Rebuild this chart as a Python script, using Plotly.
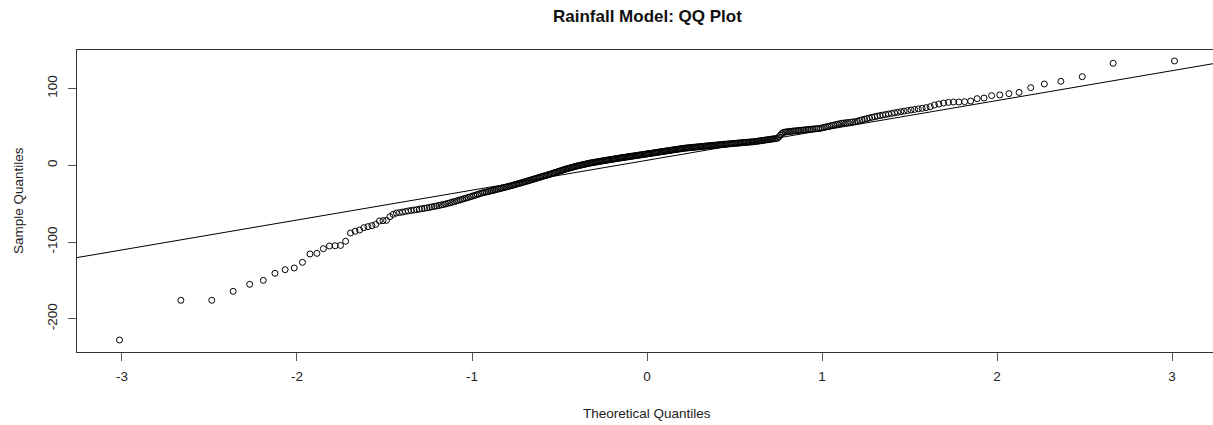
from statistics import NormalDist

import numpy as np
import plotly.graph_objects as go

# Sorted sample quantiles of the rainfall model residuals (n = 388)
lower_tail = [
    -227.8, -176.0, -176.0, -164.3, -155.2, -150.0, -140.8, -136.1, -133.9, -126.5,
    -115.6, -114.8, -108.7, -105.2, -104.9, -104.5, -99.0, -88.3, -86.0, -84.4,
    -81.3, -80.0, -78.7, -77.0, -72.6, -72.2, -71.8, -67.0, -64.0,
]
lower_body = [
    -62.3, -61.6, -61.0, -60.2, -59.5, -58.9, -58.3,
    -57.9, -57.2, -56.6, -56.0, -55.5, -54.9, -54.2, -53.6, -53.0, -52.4, -51.7, -51.1, -50.4, -49.6,
    -48.9, -48.1, -47.3, -46.6, -45.8, -45.0, -44.2, -43.4, -42.7, -41.9, -41.2, -40.4, -39.6, -38.9,
    -38.1, -37.3, -36.5,
    -35.9, -35.4, -34.8, -34.3, -33.8, -33.2, -32.7, -32.2, -31.6, -31.1, -30.5, -30.0, -29.5, -28.9,
    -28.4, -27.9, -27.3, -26.8, -26.3, -25.7,
    -25.1, -24.6, -24.0, -23.5, -22.9, -22.4, -21.8, -21.3, -20.7, -20.2, -19.6, -19.1, -18.5, -18.0,
    -17.4, -16.9, -16.3, -15.8, -15.2, -14.7, -14.2, -13.6, -13.1, -12.6,
]
middle_body = [
    -12.1, -11.6, -11.0, -10.5, -9.9, -9.4, -8.8, -8.3, -7.7, -7.2, -6.6, -6.1, -5.5, -5.0,
    -4.6, -4.1, -3.7, -3.2, -2.8, -2.4, -1.9, -1.5, -1.0, -0.6,
    -0.25, 0.1, 0.45, 0.8, 1.15, 1.5, 1.85, 2.2, 2.55, 2.9,
    3.2, 3.4, 3.7, 4.0, 4.2, 4.5, 4.8, 5.1, 5.3, 5.6,
    5.85, 6.1, 6.35, 6.6, 6.85, 7.1, 7.35, 7.6, 7.85, 8.1, 8.35, 8.6, 8.85, 9.1,
    9.3, 9.6, 9.8, 10.0, 10.2, 10.5, 10.7, 10.9, 11.1, 11.4, 11.6, 11.8, 12.0, 12.3, 12.5, 12.7, 12.9,
    13.2, 13.4, 13.6, 13.8, 14.1, 14.3, 14.5, 14.7, 15.0, 15.2, 15.4, 15.6,
    15.8, 16.1, 16.3, 16.5, 16.7, 17.0, 17.2, 17.4, 17.7, 17.9, 18.1, 18.3, 18.6, 18.8, 19.0, 19.2,
    19.5, 19.7, 19.9, 20.2, 20.4, 20.6, 20.8, 21.1, 21.3, 21.5, 21.7, 22.0, 22.2,
    22.4, 22.5, 22.7, 22.8, 23.0, 23.1, 23.3, 23.4, 23.6, 23.7, 23.9, 24.0, 24.2, 24.4, 24.5, 24.7,
    24.8, 25.0, 25.1, 25.3, 25.4, 25.6, 25.7, 25.9, 26.0, 26.2, 26.3, 26.5,
    26.6, 26.8, 26.9, 27.1, 27.2, 27.4, 27.5, 27.7, 27.8, 28.0, 28.1, 28.3, 28.4, 28.6, 28.7, 28.9,
    29.0, 29.2, 29.3, 29.5, 29.6, 29.8, 29.9, 30.1, 30.2, 30.4, 30.5, 30.7, 30.8,
]
upper_body = [
    31.1, 31.4, 31.6, 31.9, 32.2, 32.5, 32.7, 33.0, 33.3, 33.5, 33.8, 34.1, 34.4, 34.6, 34.9, 35.2,
    37.0, 39.5, 41.5, 42.8, 43.3, 43.6, 43.9,
    44.1, 44.3, 44.6, 44.8, 45.0, 45.2, 45.5, 45.7, 45.9, 46.1, 46.4, 46.6, 46.8, 47.0, 47.3, 47.5,
    47.7, 47.9, 48.2,
    48.8, 49.4, 50.0, 50.6, 51.2, 51.8, 52.4, 53.0, 53.6, 54.2, 54.8,
    55.1, 55.5, 55.8, 56.1, 56.5, 56.8,
    57.6, 58.4, 59.3, 60.1, 60.9, 61.7, 62.6, 63.4,
    64.1, 64.8, 65.5, 66.2, 66.9,
    67.6, 68.4, 69.1, 69.9,
    70.6, 71.3, 72.1, 72.8, 73.6, 74.3, 75.1,
]
upper_tail = [
    76.4, 78.6, 79.9, 81.2, 82.0, 82.5, 82.5, 82.9, 83.8, 86.9, 87.7, 90.8, 91.7, 93.4, 95.0,
    101.2, 106.0, 109.5, 115.5, 133.0, 136.0,
]

title_text = "Rainfall Model: QQ Plot"
x_label = "Theoretical Quantiles"
y_label = "Sample Quantiles"
x_ticks = [-3, -2, -1, 0, 1, 2, 3]
y_ticks = [-200, -100, 0, 100]

sample = np.sort(np.array(lower_tail + lower_body + middle_body + upper_body + upper_tail))
n = len(sample)

# Normal scores as in qqnorm: ppoints(n) with a = 0.5
norm = NormalDist()
theoretical = np.array([norm.inv_cdf((i - 0.5) / n) for i in range(1, n + 1)])

# Reference line through the first and third quartiles (qqline)
q_y = np.percentile(sample, [25, 75])
q_x = np.array([norm.inv_cdf(0.25), norm.inv_cdf(0.75)])
slope = (q_y[1] - q_y[0]) / (q_x[1] - q_x[0])
intercept = q_y[0] - slope * q_x[0]

x_range = [-3.257, 3.234]
y_range = [-243.4, 150.3]

font_family = "Liberation Sans, Arial, sans-serif"

fig = go.Figure()
fig.add_trace(go.Scatter(
    x=x_range,
    y=[intercept + slope * x_range[0], intercept + slope * x_range[1]],
    mode="lines",
    line=dict(color="black", width=1),
    hoverinfo="skip",
    showlegend=False,
))
fig.add_trace(go.Scatter(
    x=theoretical,
    y=sample,
    mode="markers",
    marker=dict(symbol="circle-open", size=6, color="black", line=dict(width=1, color="black")),
    showlegend=False,
))

axis_common = dict(
    showgrid=False,
    zeroline=False,
    showline=True,
    linecolor="#333333",
    linewidth=1,
    ticks="outside",
    ticklen=8,
    tickcolor="#555555",
    tickwidth=1,
    tickfont=dict(family=font_family, size=13.5, color="#222222"),
)

fig.update_xaxes(
    range=x_range,
    tickvals=x_ticks,
    ticktext=[str(t) for t in x_ticks],
    mirror=True,
    ticklabelstandoff=4,
    **axis_common,
)
fig.update_yaxes(
    range=y_range,
    tickvals=y_ticks,
    ticktext=[str(t) for t in y_ticks],
    tickangle=-90,
    mirror=False,
    ticklabelstandoff=6,
    **axis_common,
)

fig.update_layout(
    width=1213,
    height=425,
    margin=dict(l=77, r=0, t=50, b=73),
    paper_bgcolor="white",
    plot_bgcolor="white",
    font=dict(family=font_family, color="#222222"),
    annotations=[
        dict(text="<b>" + title_text + "</b>", xref="paper", yref="paper", x=0.502, y=1.0,
             yshift=34, xanchor="center", yanchor="middle", showarrow=False,
             font=dict(family=font_family, size=17, color="#111111")),
        dict(text=x_label, xref="paper", yref="paper", x=0.502, y=0, yshift=-61,
             xanchor="center", yanchor="middle", showarrow=False,
             font=dict(family=font_family, size=13.5, color="#222222")),
        dict(text=y_label, xref="paper", yref="paper", x=0, y=0.5, xshift=-59,
             xanchor="center", yanchor="middle", textangle=-90, showarrow=False,
             font=dict(family=font_family, size=13.5, color="#222222")),
    ],
)

fig.write_html("out.html")
